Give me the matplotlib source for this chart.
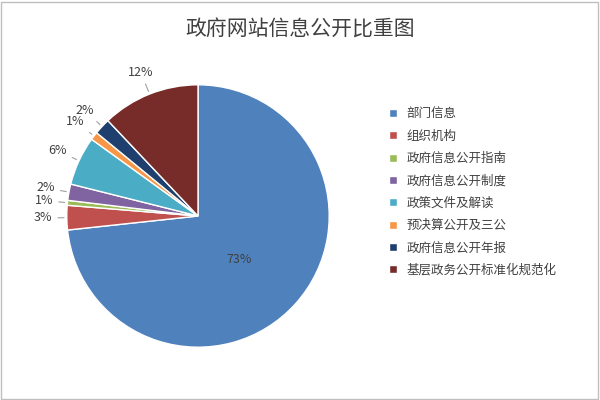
import matplotlib
matplotlib.use("Agg")
import matplotlib.pyplot as plt
from matplotlib.patches import Rectangle
import numpy as np

plt.rcParams['font.family'] = ['Noto Sans CJK SC', 'DejaVu Sans']

categories = ["部门信息", "组织机构", "政府信息公开指南", "政府信息公开制度",
              "政策文件及解读", "预决算公开及三公", "政府信息公开年报", "基层政务公开标准化规范化"]
values = [73, 3, 0.6, 2, 6, 1, 2, 12]
labels = ["73%", "3%", "1%", "2%", "6%", "1%", "2%", "12%"]
colors = ["#4F81BD", "#C0504D", "#9BBB59", "#8064A2", "#4BACC6", "#F79646", "#1F3F6E", "#772C2A"]

fig = plt.figure(figsize=(6, 4), dpi=100)
ax = fig.add_axes([0.055, 0.05, 0.55, 0.82])
wedges, _ = ax.pie(values, colors=colors, startangle=90, counterclock=False,
                   wedgeprops=dict(edgecolor="white", linewidth=1))
ax.set_aspect("equal")

for i, (w, lab) in enumerate(zip(wedges, labels)):
    ang = np.deg2rad((w.theta1 + w.theta2) / 2)
    if i == 0:
        ax.text(0.35 * np.cos(ang) + 0.05, 0.35 * np.sin(ang) - 0.1, lab, ha="center", va="center",
                fontsize=9, color="#404040")
        continue
    r = 1.18
    x, y = r * np.cos(ang), r * np.sin(ang)
    ax.annotate(lab, xy=(np.cos(ang), np.sin(ang)), xytext=(x, y), ha="center", va="center",
                fontsize=9, color="#404040",
                arrowprops=dict(arrowstyle="-", color="#A0A0A0", lw=0.8))

fig.text(0.5, 0.925, "政府网站信息公开比重图", ha="center", va="center", fontsize=15, color="#404040")
fig.legend(wedges, categories, loc="center left", bbox_to_anchor=(0.63, 0.52), frameon=False,
           fontsize=9, handlelength=0.6, handleheight=0.6, labelspacing=0.75, labelcolor="#404040")
fig.patches.append(Rectangle((0.002, 0.003), 0.995, 0.992, transform=fig.transFigure,
                             fill=False, edgecolor="#BFBFBF", lw=1))
fig.savefig("out.png", dpi=100)
